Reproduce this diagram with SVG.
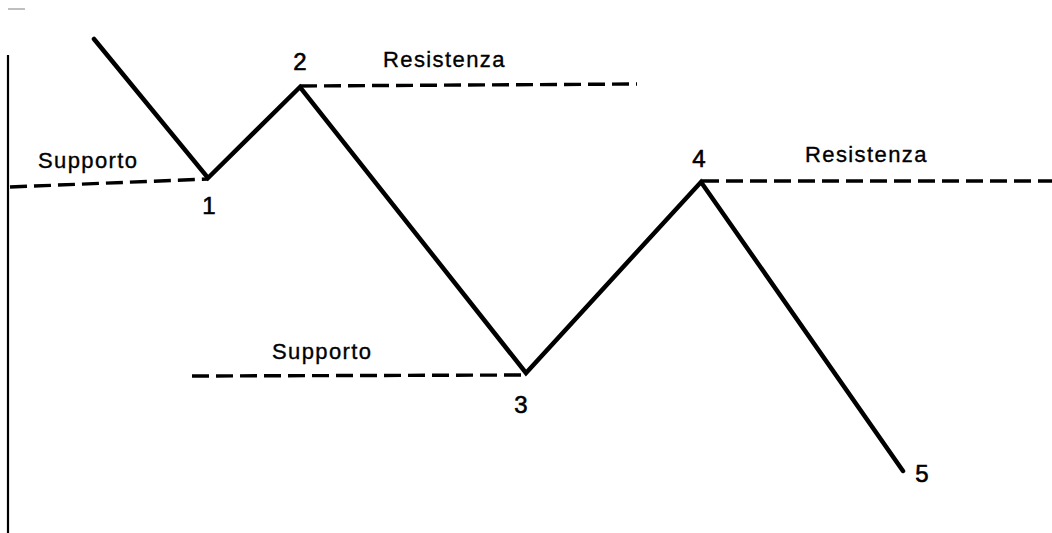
<svg xmlns="http://www.w3.org/2000/svg" width="1052" height="533" viewBox="0 0 1052 533">
  <style>
    .price { fill: none; stroke: #000; stroke-width: 4.5; stroke-linejoin: miter; stroke-linecap: round; }
    .level { fill: none; stroke: #000; stroke-width: 3.4; stroke-dasharray: 17 7; }
    .frame { fill: none; stroke: #000; stroke-width: 2.2; }
    .lbl { font-family: "Liberation Sans", Arial, sans-serif; font-size: 22px; letter-spacing: 1.4px; fill: #000; stroke: #000; stroke-width: 0.35; }
    .num { font-family: "Liberation Sans", Arial, sans-serif; font-size: 24px; fill: #000; stroke: #000; stroke-width: 0.6; text-anchor: middle; }
  </style>

  <rect width="1052" height="533" fill="#fff"/>

  <!-- page frame remnants -->
  <g id="frame">
    <line x1="8" y1="9" x2="25" y2="9" stroke="#aaa" stroke-width="1.5"/>
    <line class="frame" x1="8" y1="55" x2="8" y2="533"/>
  </g>

  <!-- support and resistance levels, plus the price path -->
  <g id="connectors">
    <line id="support-1" class="level" x1="10" y1="187" x2="208" y2="179"/>
    <line id="resistance-2" class="level" x1="300" y1="86" x2="637" y2="84"/>
    <line id="support-3" class="level" x1="192" y1="376" x2="526" y2="375"/>
    <line id="resistance-4" class="level" x1="702" y1="181" x2="1052" y2="181"/>
    <polyline id="price-path" class="price" points="94,39 208,178 300,87 526,373 701,182 903,471"/>
  </g>

  <g id="point-1"><text class="num" x="209" y="214">1</text></g>
  <g id="point-2"><text class="num" x="300" y="70">2</text></g>
  <g id="point-3"><text class="num" x="521" y="413">3</text></g>
  <g id="point-4"><text class="num" x="699" y="167">4</text></g>
  <g id="point-5"><text class="num" x="922" y="482">5</text></g>

  <g id="label-support-1"><text class="lbl" x="38" y="168">Supporto</text></g>
  <g id="label-resistance-2"><text class="lbl" x="383" y="67">Resistenza</text></g>
  <g id="label-support-3"><text class="lbl" x="272" y="359">Supporto</text></g>
  <g id="label-resistance-4"><text class="lbl" x="805" y="162">Resistenza</text></g>
</svg>
